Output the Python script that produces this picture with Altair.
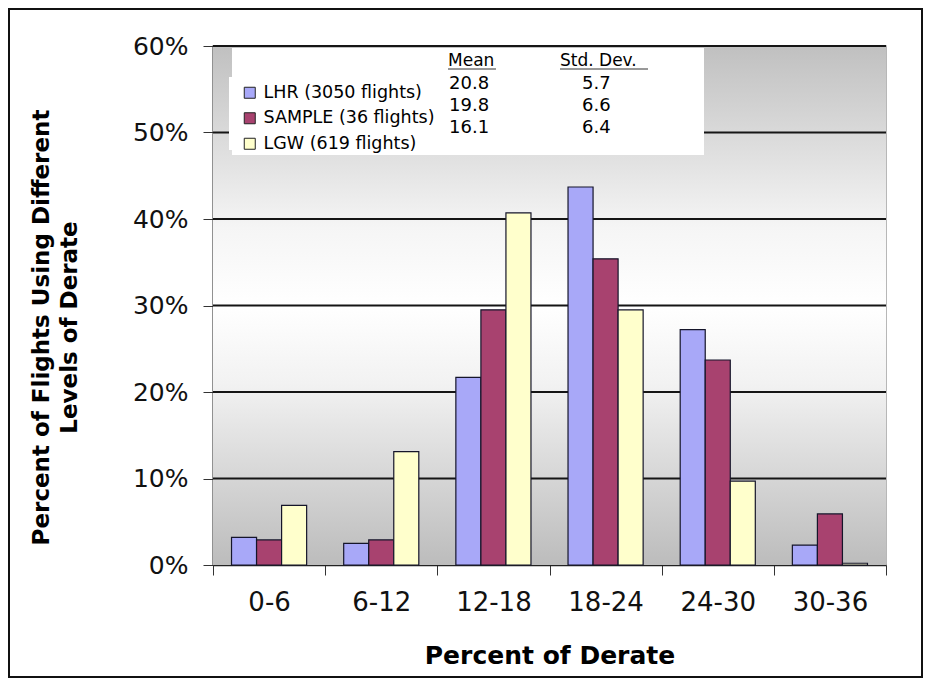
import altair as alt
import pandas as pd

# ---- data ----
categories = ["0-6", "6-12", "12-18", "18-24", "24-30", "30-36"]
series = ["LHR (3050 flights)", "SAMPLE (36 flights)", "LGW (619 flights)"]
lhr = [3.2, 2.5, 21.7, 43.7, 27.2, 2.3]
sample = [2.9, 2.9, 29.5, 35.4, 23.7, 5.9]
lgw = [6.9, 13.1, 40.7, 29.5, 9.7, 0.2]
means = ["20.8", "19.8", "16.1"]
std_devs = ["5.7", "6.6", "6.4"]
table_headers = ["Mean", "Std. Dev."]
y_ticks = [0, 10, 20, 30, 40, 50, 60]

colors = ["#a8a8f8", "#a8426f", "#ffffcc"]
FONT = "DejaVu Sans"
W, H = 673, 519

rows = []
for s, vals in zip(series, [lhr, sample, lgw]):
    for c, v in zip(categories, vals):
        rows.append({"range": c, "series": s, "pct": v})
df = pd.DataFrame(rows)
one = pd.DataFrame({"k": [0]})

y_scale = alt.Scale(domain=[0, 60], nice=False)

bars = alt.Chart(df).mark_bar(stroke="#15152a", strokeWidth=1.2).encode(
    x=alt.X(
        "range:N", sort=categories,
        scale=alt.Scale(paddingInner=0, paddingOuter=0),
        axis=alt.Axis(
            tickBand="extent", labelAngle=0, labelFont=FONT, labelFontSize=26,
            labelColor="#111", labelPadding=14, tickSize=10, tickColor="#333",
            domainColor="#222", domainWidth=1.5, grid=False,
            title="Percent of Derate", titleFont=FONT, titleFontSize=25,
            titleFontWeight="bold", titleColor="#000", titleY=90,
            titleBaseline="middle",
        ),
    ),
    xOffset=alt.XOffset(
        "series:N", sort=series,
        scale=alt.Scale(domain=series, paddingInner=0, paddingOuter=0.74),
    ),
    y=alt.Y(
        "pct:Q", scale=y_scale,
        axis=alt.Axis(
            values=y_ticks, labelExpr="datum.value + '%'", labelFont=FONT,
            labelFontSize=25, labelColor="#111", labelPadding=15, tickSize=10,
            tickColor="#333", domainColor="#222", domainWidth=1.5,
            grid=False,
            title=["Percent of Flights Using Different", "Levels of Derate"],
            titleFont=FONT, titleFontSize=23, titleFontWeight="bold",
            titleColor="#000", titleX=-172, titleY=281, titleAngle=-90,
            titleAlign="center", titleBaseline="middle", titleLineHeight=28,
        ),
    ),
    color=alt.Color(
        "series:N", sort=series,
        scale=alt.Scale(domain=series, range=colors),
        legend=alt.Legend(
            title=None, orient="none", legendX=28, legendY=38,
            symbolType="square", symbolSize=121, symbolStrokeColor="#222",
            symbolStrokeWidth=1, labelFont=FONT, labelFontSize=17.5,
            labelColor="#000", rowPadding=6.5, padding=0, labelOffset=5,
            labelLimit=0,
        ),
    ),
)

gradient = alt.LinearGradient(
    gradient="linear", x1=0, x2=0, y1=0, y2=1,
    stops=[
        alt.GradientStop(color="#c0c0c0", offset=0),
        alt.GradientStop(color="#f5f5f5", offset=0.35),
        alt.GradientStop(color="#ffffff", offset=0.5),
        alt.GradientStop(color="#f2f2f2", offset=0.65),
        alt.GradientStop(color="#bcbcbc", offset=1),
    ],
)
backdrop = alt.Chart(one).mark_rect(color=gradient).encode(
    x=alt.value(0), x2=alt.value(W), y=alt.value(0), y2=alt.value(H)
)

grid = alt.Chart(pd.DataFrame({"pct": y_ticks[1:]})).mark_rule(
    color="#151515", strokeWidth=1.9
).encode(y=alt.Y("pct:Q", scale=y_scale))

# white legend / table boxes
box_a = alt.Chart(one).mark_rect(color="white").encode(
    x=alt.value(19), x2=alt.value(491), y=alt.value(2), y2=alt.value(109)
)
box_b = alt.Chart(one).mark_rect(color="white").encode(
    x=alt.value(16), x2=alt.value(229), y=alt.value(31), y2=alt.value(104)
)

# table headers with underline
hdr_df = pd.DataFrame({"t": table_headers, "i": [0, 1]})
hdr_x = [235, 347]
headers = []
for i, t in enumerate(table_headers):
    headers.append(
        alt.Chart(hdr_df[hdr_df.i == i]).mark_text(
            font=FONT, fontSize=17, align="left", baseline="middle", color="#000"
        ).encode(x=alt.value(hdr_x[i]), y=alt.value(15), text="t:N")
    )
underline = [
    alt.Chart(one).mark_rule(color="#333", strokeWidth=1).encode(
        x=alt.value(235), x2=alt.value(283), y=alt.value(23)
    ),
    alt.Chart(one).mark_rule(color="#333", strokeWidth=1).encode(
        x=alt.value(347), x2=alt.value(435), y=alt.value(23)
    ),
]

tbl_df = pd.DataFrame({"mean": means, "sd": std_devs, "i": [0, 1, 2]})
row_y = [37, 59, 81]
cells = []
for i in range(3):
    sub = tbl_df[tbl_df.i == i]
    cells.append(
        alt.Chart(sub).mark_text(
            font=FONT, fontSize=18, align="left", baseline="middle", color="#000"
        ).encode(x=alt.value(236), y=alt.value(row_y[i] + 1), text="mean:N")
    )
    cells.append(
        alt.Chart(sub).mark_text(
            font=FONT, fontSize=18, align="left", baseline="middle", color="#000"
        ).encode(x=alt.value(369), y=alt.value(row_y[i] + 1), text="sd:N")
    )

# outer frame round the whole chart
frame = alt.Chart(one).mark_rect(
    fillOpacity=0, stroke="#111", strokeWidth=2
).encode(
    x=alt.value(-204), x2=alt.value(709), y=alt.value(-37), y2=alt.value(631)
)

chart = alt.layer(
    backdrop, grid, box_a, box_b, bars, *headers, *underline, *cells, frame
).properties(
    width=W, height=H,
    autosize=alt.AutoSizeParams(type="none"),
    padding={"left": 205, "top": 38, "right": 38, "bottom": 113},
    background="white",
).configure_view(
    stroke="#a0a0a0", strokeWidth=1.5
)

chart.save("out.html", embed_options={"renderer": "svg", "actions": False})
